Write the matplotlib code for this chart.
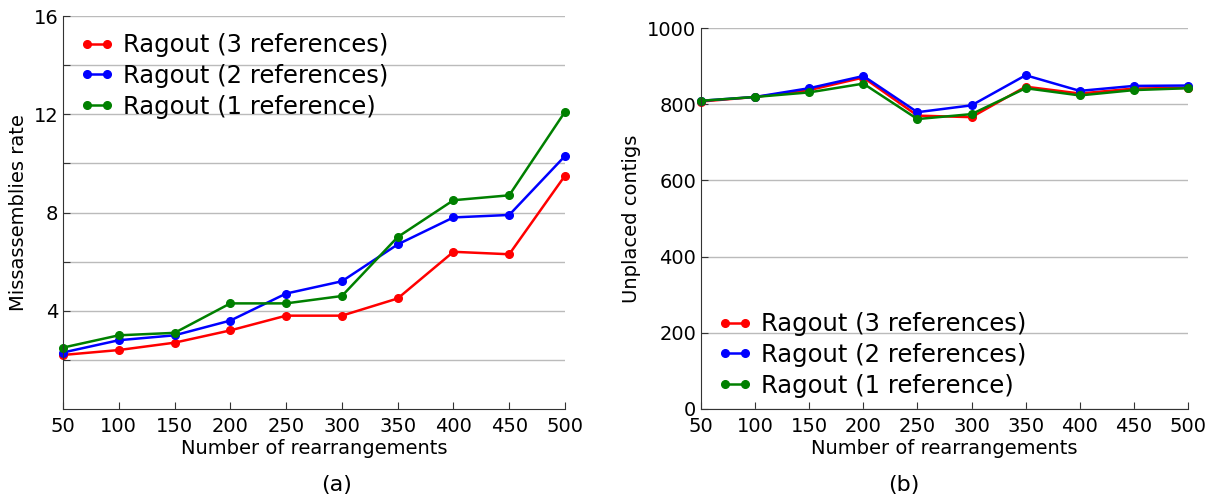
import matplotlib
matplotlib.use("Agg")
import matplotlib.pyplot as plt

rearr = [50, 100, 150, 200, 250, 300, 350, 400, 450, 500]
labels = ["Ragout (3 references)", "Ragout (2 references)", "Ragout (1 reference)"]
colors = ["#ff0000", "#0000ff", "#008000"]

# (a) missassemblies rate
mis_3ref = [2.2, 2.4, 2.7, 3.2, 3.8, 3.8, 4.5, 6.4, 6.3, 9.5]
mis_2ref = [2.3, 2.8, 3.0, 3.6, 4.7, 5.2, 6.7, 7.8, 7.9, 10.3]
mis_1ref = [2.5, 3.0, 3.1, 4.3, 4.3, 4.6, 7.0, 8.5, 8.7, 12.1]

# (b) unplaced contigs
unp_3ref = [807, 819, 837, 870, 770, 766, 846, 828, 841, 843]
unp_2ref = [809, 819, 842, 874, 779, 797, 876, 835, 848, 849]
unp_1ref = [809, 819, 831, 854, 761, 774, 842, 823, 837, 842]

fig = plt.figure(figsize=(12.1, 4.99), dpi=100)
ax1 = fig.add_axes([63 / 1210, 1 - 409 / 499, 502 / 1210, 393 / 499])
ax2 = fig.add_axes([701 / 1210, 1 - 409 / 499, 487 / 1210, 381 / 499])


def style(ax):
    for s in ["top", "right"]:
        ax.spines[s].set_visible(False)
    ax.spines["left"].set_color("#333333")
    ax.spines["bottom"].set_color("#333333")
    ax.tick_params(direction="in", labelsize=14, length=5, color="#333333")
    ax.tick_params(axis="x", pad=6)
    ax.yaxis.grid(True, color="#bbbbbb", linewidth=1)
    ax.set_axisbelow(True)
    ax.set_xlim(50, 500)
    ax.set_xticks(rearr)
    ax.set_xlabel("Number of rearrangements", fontsize=14, labelpad=2)


leg_kw = dict(fontsize=17.5, frameon=False, numpoints=2, handlelength=1.4,
              handletextpad=0.35, labelspacing=0.28)

for ys, c, l in zip([mis_3ref, mis_2ref, mis_1ref], colors, labels):
    ax1.plot(rearr, ys, "-o", color=c, label=l, linewidth=1.8, markersize=5.5,
             markeredgecolor=c, clip_on=False)
style(ax1)
ax1.set_ylim(0, 16)
ax1.set_yticks(range(2, 17, 2))
ax1.set_yticklabels([str(v) if v % 4 == 0 else "" for v in range(2, 17, 2)])
ax1.set_ylabel("Missassemblies rate", fontsize=14)
ax1.legend(loc="upper left", bbox_to_anchor=(0.0, 1.0), borderaxespad=0.3, **leg_kw)

for ys, c, l in zip([unp_3ref, unp_2ref, unp_1ref], colors, labels):
    ax2.plot(rearr, ys, "-o", color=c, label=l, linewidth=1.8, markersize=5.5,
             markeredgecolor=c, clip_on=False)
style(ax2)
ax2.set_ylim(0, 1000)
ax2.set_yticks(range(0, 1001, 200))
ax2.set_ylabel("Unplaced contigs", fontsize=14)
ax2.legend(loc="lower left", bbox_to_anchor=(0.0, -0.015), borderaxespad=0.3, **leg_kw)

fig.text(337 / 1210, 1 - 485 / 499, "(a)", fontsize=16, ha="center", va="center")
fig.text(904 / 1210, 1 - 485 / 499, "(b)", fontsize=16, ha="center", va="center")

fig.savefig("out.png", dpi=100)
